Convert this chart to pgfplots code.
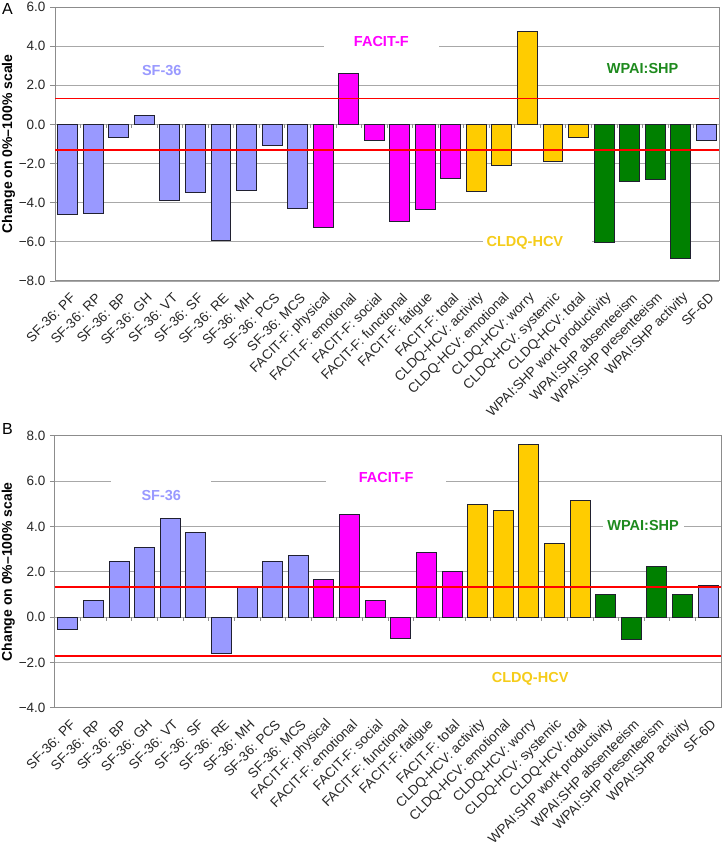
\documentclass[border=0pt]{standalone}
\usepackage{fontspec}
\setmainfont{Liberation Sans}
\usepackage{pgfplots}
\pgfplotsset{compat=1.18}
\definecolor{lav}{HTML}{9999FF}
\definecolor{mag}{HTML}{FF00FF}
\definecolor{gold}{HTML}{FFCC00}
\definecolor{grn}{HTML}{008000}
\definecolor{wlab}{HTML}{1E8A1E}
\definecolor{clab}{HTML}{F5CC1A}
\definecolor{gridc}{HTML}{A8A8A8}
\definecolor{axc}{HTML}{8C8C8C}
\definecolor{barline}{HTML}{202030}

\tikzset{grp/.style={font=\bfseries\fontsize{14.5bp}{17bp}\selectfont, fill=white, inner sep=3bp}}
\pgfplotsset{
 panel/.style={
  scale only axis, anchor=south west,
  xmin=-0.5, xmax=25.5,
  xtick={0,...,25},
  xticklabels={SF-36: PF, SF-36: RP, SF-36: BP, SF-36: GH, SF-36: VT, SF-36: SF, SF-36: RE, SF-36: MH, SF-36: PCS, SF-36: MCS,
   FACIT-F: physical, FACIT-F: emotional, FACIT-F: social, FACIT-F: functional, FACIT-F: fatigue, FACIT-F: total,
   CLDQ-HCV: activity, CLDQ-HCV: emotional, CLDQ-HCV: worry, CLDQ-HCV: systemic, CLDQ-HCV: total,
   WPAI:SHP work productivity, WPAI:SHP absenteeism, WPAI:SHP presenteeism, WPAI:SHP activity, SF-6D},
  xtick style={draw=none},
  ymajorgrids, grid style={gridc, line width=0.8bp},
  ytick pos=left, tick align=outside, major tick length=5bp,
  ytick style={axc, line width=0.8bp},
  axis line style={axc, line width=1bp},
  tick label style={font=\fontsize{13.5bp}{16bp}\selectfont, text=black!85},
  yticklabel style={xshift=-1bp},
  xticklabel style={rotate=45, anchor=east, inner sep=0pt, xshift=-3bp, yshift=-10.5bp},
  ylabel={Change on 0\%–100\% scale},
  every axis y label/.style={at={(axis description cs:-0.07,0.5)}, rotate=90, anchor=center,
     font=\bfseries\fontsize{14bp}{16bp}\selectfont},
 },
 bars/.style={ybar, bar width=0.78, bar shift=0pt, draw=barline, line width=1bp},
 redline/.style={red, line width=1.6bp, forget plot},
}

\begin{document}
\begin{tikzpicture}
\useasboundingbox (0,0) rectangle (723bp,853bp);
\node[font=\fontsize{16bp}{18bp}\selectfont] at (7.5bp,844bp) {A};
\node[font=\fontsize{16bp}{18bp}\selectfont] at (7.5bp,424bp) {B};

% ---------- Panel A ----------
\begin{axis}[panel, at={(55bp,572bp)}, width=664bp, height=274bp,
  ymin=-8, ymax=6, ytick={-8,-6,-4,-2,0,2,4,6},
  yticklabels={−8.0,−6.0,−4.0,−2.0,0.0,2.0,4.0,6.0}]
\addplot[bars, fill=lav] coordinates {(0,-4.60) (1,-4.55) (2,-0.67) (3,0.48) (4,-3.88) (5,-3.47) (6,-5.95) (7,-3.40) (8,-1.06) (9,-4.31)};
\addplot[bars, fill=mag] coordinates {(10,-5.25) (11,2.58) (12,-0.80) (13,-4.97) (14,-4.34) (15,-2.75)};
\addplot[bars, fill=gold] coordinates {(16,-3.42) (17,-2.08) (18,4.77) (19,-1.91) (20,-0.68)};
\addplot[bars, fill=grn] coordinates {(21,-6.05) (22,-2.92) (23,-2.82) (24,-6.85)};
\addplot[bars, fill=lav] coordinates {(25,-0.80)};
\addplot[redline] coordinates {(-0.5,1.33) (25.5,1.33)};
\addplot[redline] coordinates {(-0.5,-1.32) (25.5,-1.32)};
\pgfplotsinvokeforeach{0,...,24}{\draw[axc, line width=0.7bp] (axis cs:#1+0.5,0) -- ++(0pt,-4bp);}
\node[grp, text=lav, fill=none] at (axis cs:3.68,2.75) {SF-36};
\node[grp, text=mag, inner xsep=30bp, inner ysep=5bp] at (axis cs:12.28,4.26) {FACIT-F};
\node[grp, text=wlab, fill=none] at (axis cs:22.51,2.85) {WPAI:SHP};
\node[fill=white, minimum width=109bp, minimum height=14bp, inner sep=0pt] at (axis cs:18.39,-6.03) {};
\node[grp, text=clab, fill=none] at (axis cs:17.90,-6.03) {CLDQ-HCV};
\end{axis}

% ---------- Panel B ----------
\begin{axis}[panel, at={(55bp,145.3bp)}, width=666bp, height=272bp,
  ymin=-4, ymax=8, ytick={-4,-2,0,2,4,6,8},
  yticklabels={−4.0,−2.0,0.0,2.0,4.0,6.0,8.0}]
\addplot[bars, fill=lav] coordinates {(0,-0.56) (1,0.75) (2,2.47) (3,3.07) (4,4.33) (5,3.73) (6,-1.63) (7,1.29) (8,2.45) (9,2.71)};
\addplot[bars, fill=mag] coordinates {(10,1.67) (11,4.54) (12,0.73) (13,-0.93) (14,2.85) (15,2.03)};
\addplot[bars, fill=gold] coordinates {(16,4.98) (17,4.71) (18,7.62) (19,3.23) (20,5.14)};
\addplot[bars, fill=grn] coordinates {(21,1.01) (22,-1.00) (23,2.22) (24,1.01)};
\addplot[bars, fill=lav] coordinates {(25,1.41)};
\addplot[redline] coordinates {(-0.5,1.33) (25.5,1.33)};
\addplot[redline] coordinates {(-0.5,-1.73) (25.5,-1.73)};
\pgfplotsinvokeforeach{0,...,24}{\draw[axc, line width=0.7bp] (axis cs:#1+0.5,0) -- ++(0pt,-4bp);}
\node[grp, text=lav, minimum width=100bp, minimum height=32bp, inner sep=0pt] at (axis cs:3.65,5.36) {SF-36};
\node[grp, text=mag, minimum width=120bp, inner ysep=5bp] at (axis cs:12.43,6.14) {FACIT-F};
\node[grp, text=wlab, minimum width=81bp, inner ysep=5bp] at (axis cs:22.46,4.05) {WPAI:SHP};
\node[grp, text=clab, fill=none] at (axis cs:18.05,-2.72) {CLDQ-HCV};
\end{axis}
\end{tikzpicture}
\end{document}
